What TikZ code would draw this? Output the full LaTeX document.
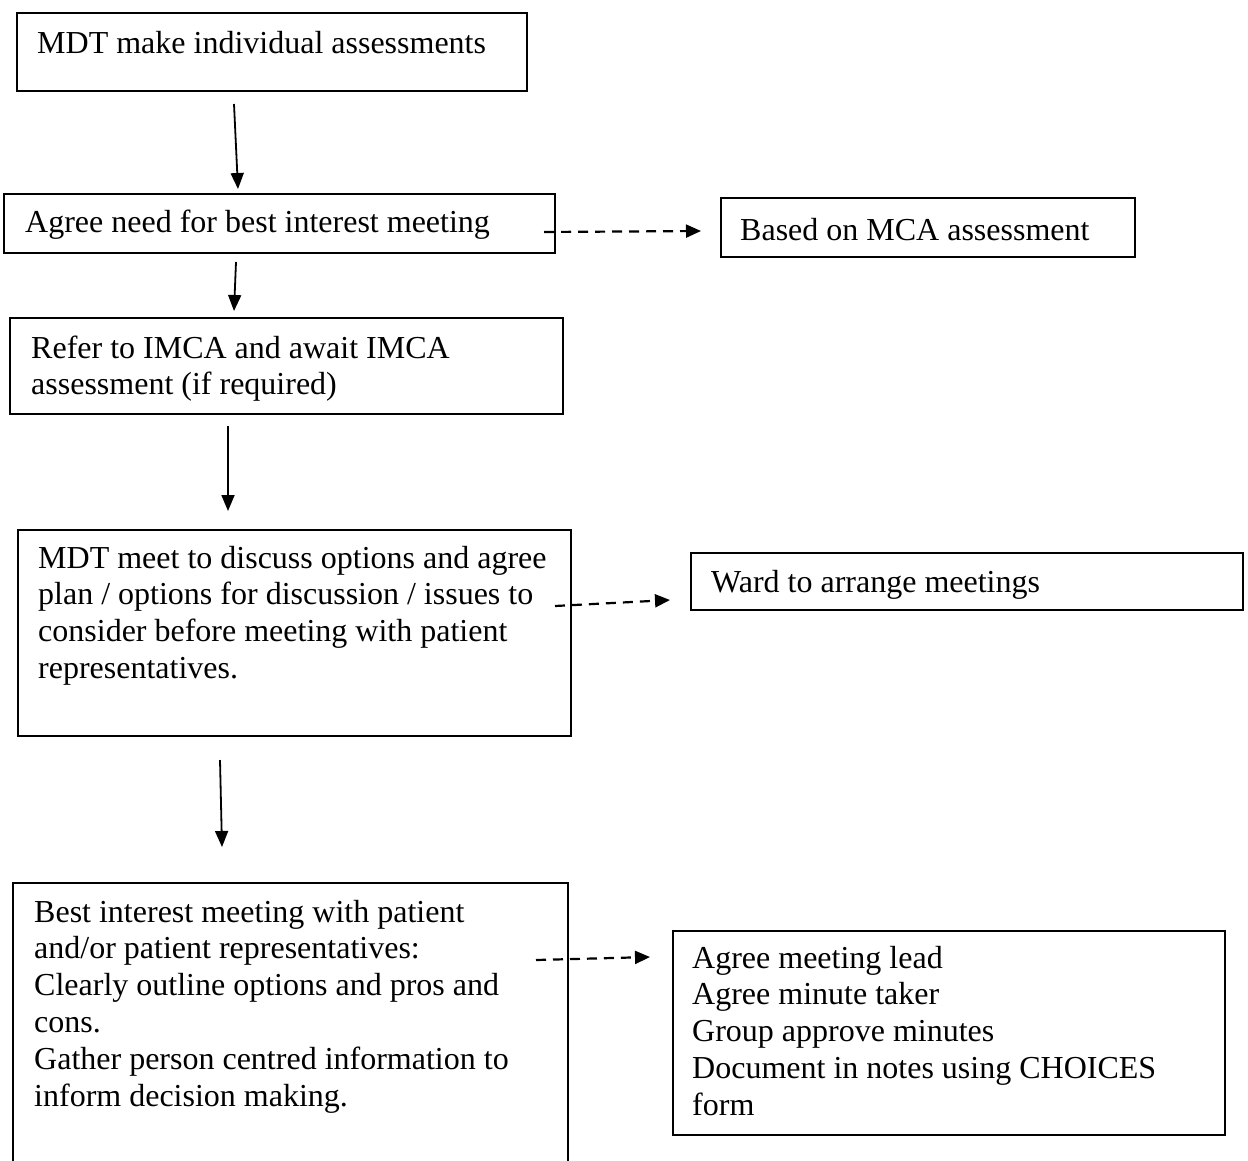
\documentclass[tikz,border=0pt]{standalone}
\usepackage{fontspec}
\setmainfont{Liberation Serif}
\usetikzlibrary{arrows.meta}
\begin{document}
\begin{tikzpicture}[x=1pt,y=-1pt,
  box/.style={draw=black,line width=1.8pt,rectangle,inner sep=0pt,anchor=north west},
  txt/.style={inner sep=0pt,anchor=base west,align=left,font=\fontsize{32}{36.8}\selectfont},
  flow/.style={line width=1.8pt,-{Triangle[length=16pt,width=13pt]}},
  side/.style={line width=2.2pt,dash pattern=on 10pt off 7pt,-{Triangle[length=15pt,width=13pt]}}]
\useasboundingbox (0,0) rectangle (1248,1160);
\clip (0,0) rectangle (1248,1160);
% boxes
\node[box,minimum width=510pt,minimum height=78pt] (b1) at (16,12) {};
\node[box,minimum width=551pt,minimum height=59pt] (b2) at (3,193) {};
\node[box,minimum width=414pt,minimum height=59pt] (b3) at (720,197) {};
\node[box,minimum width=553pt,minimum height=96pt] (b4) at (9,317) {};
\node[box,minimum width=553pt,minimum height=206pt] (b5) at (17,529) {};
\node[box,minimum width=552pt,minimum height=57pt] (b6) at (690,552) {};
\node[box,minimum width=555pt,minimum height=320pt] (b7) at (12,882) {};
\node[box,minimum width=552pt,minimum height=204pt] (b8) at (672,930) {};
% texts (base anchor = baseline of the last line)
\node[txt] (t1) at (37,53) {MDT make individual assessments};
\node[txt] (t2) at (25,232) {Agree need for best interest meeting};
\node[txt] (t3) at (740,240) {Based on MCA assessment};
\node[txt] (t4) at (31,394.8) {Refer to IMCA and await IMCA\\assessment (if required)};
\node[txt] (t5) at (38,678.4) {MDT meet to discuss options and agree\\plan / options for discussion / issues to\\consider before meeting with patient\\representatives.};
\node[txt] (t6) at (711,592) {Ward to arrange meetings};
\node[txt] (t7) at (34,1106) {Best interest meeting with patient\\and/or patient representatives:\\Clearly outline options and pros and\\cons.\\Gather person centred information to\\inform decision making.};
\node[txt] (t8) at (692,1115.2) {Agree meeting lead\\Agree minute taker\\Group approve minutes\\Document in notes using CHOICES\\form};
% connector end points
\coordinate (a1s) at (234,104); \coordinate (a1e) at (238,189);
\coordinate (a2s) at (236,262); \coordinate (a2e) at (234,311);
\coordinate (a3s) at (228,426); \coordinate (a3e) at (228,511);
\coordinate (a4s) at (220,760); \coordinate (a4e) at (222,847);
\coordinate (d1s) at (544,232); \coordinate (d1e) at (701,231);
\coordinate (d2s) at (555,606); \coordinate (d2e) at (670,600);
\coordinate (d3s) at (536,960); \coordinate (d3e) at (650,957);
\draw[flow] (a1s) -- (a1e);
\draw[flow] (a2s) -- (a2e);
\draw[flow] (a3s) -- (a3e);
\draw[flow] (a4s) -- (a4e);
\draw[side] (d1s) -- (d1e);
\draw[side] (d2s) -- (d2e);
\draw[side] (d3s) -- (d3e);
\end{tikzpicture}
\end{document}
